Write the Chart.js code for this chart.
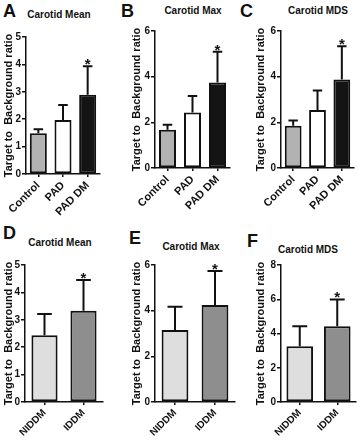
<!DOCTYPE html>
<html>
<head>
<meta charset="utf-8">
<script src="https://cdn.jsdelivr.net/npm/chart.js@4.4.1/dist/chart.umd.min.js"></script>
<style>
  body { margin: 0; background: #fff; width: 358px; height: 440px; position: relative; overflow: hidden;
         font-family: "Liberation Sans", Arial, sans-serif; color: #111; }
  canvas { position: absolute; }
  .letter { position: absolute; font-weight: bold; font-size: 18px; line-height: 18px; }
  .title { position: absolute; font-weight: bold; font-size: 10px; line-height: 10px; white-space: nowrap; transform: translateX(-50%); }
</style>
</head>
<body>

<div class="letter" style="left:3px;top:2px">A</div>
<div class="letter" style="left:121px;top:2px">B</div>
<div class="letter" style="left:240px;top:2px">C</div>
<div class="letter" style="left:3px;top:224px">D</div>
<div class="letter" style="left:129px;top:229px">E</div>
<div class="letter" style="left:247px;top:232px">F</div>

<div class="title" style="left:59px;top:10px">Carotid Mean</div>
<div class="title" style="left:193px;top:6px">Carotid Max</div>
<div class="title" style="left:318px;top:6px">Carotid MDS</div>
<div class="title" style="left:60px;top:238px">Carotid Mean</div>
<div class="title" style="left:191px;top:242px">Carotid Max</div>
<div class="title" style="left:308px;top:245px">Carotid MDS</div>

<canvas id="chartA" width="118" height="220" style="left:0;top:0"></canvas>
<canvas id="chartB" width="120" height="220" style="left:118px;top:0"></canvas>
<canvas id="chartC" width="120" height="220" style="left:238px;top:0"></canvas>
<canvas id="chartD" width="118" height="220" style="left:0;top:220px"></canvas>
<canvas id="chartE" width="120" height="220" style="left:118px;top:220px"></canvas>
<canvas id="chartF" width="120" height="220" style="left:238px;top:220px"></canvas>

<script>
// groups
const catsPAD = ['Control', 'PAD', 'PAD DM'];
const catsDM = ['NIDDM', 'IDDM'];

// means and upper error
const meanA = [1.49, 1.97, 2.89];
const errA = [0.14, 0.55, 1.04];
const meanB = [1.67, 2.43, 3.74];
const errB = [0.22, 0.72, 1.35];
const meanC = [1.85, 2.54, 3.88];
const errC = [0.23, 0.85, 1.45];
const meanD = [2.44, 3.33];
const errD = [0.77, 1.12];
const meanE = [3.15, 4.25];
const errE = [1.02, 1.49];
const meanF = [3.26, 4.43];
const errF = [1.17, 1.56];

// significance marks
const sigPAD = ['', '', '*'];
const sigDM = ['', '*'];

// y axis ranges [max, step]
const yA = [5, 1];
const yB = [6, 2];
const yC = [6, 2];
const yD = [5, 1];
const yE = [6, 2];
const yF = [8, 2];

const colorsPAD = ['#b2b2b2', '#ffffff', '#141414'];
const colorsDM = ['#dedede', '#8e8e8e'];

const yTitle = 'Target to  Background ratio';
const FONT = '"Liberation Sans", Arial, sans-serif';
const INK = '#111';

// draws the upward error bar and star over each bar
const errorBars = {
    id: 'errorBars',
    afterDatasetsDraw(chart, args, opts) {
        const ctx = chart.ctx;
        const y = chart.scales.y;
        const ds = chart.data.datasets[0];
        ctx.save();
        ctx.strokeStyle = INK;
        ctx.fillStyle = INK;
        ctx.lineWidth = 2;
        ctx.font = 'bold 15px ' + FONT;
        ctx.textAlign = 'center';
        ctx.textBaseline = 'alphabetic';
        chart.getDatasetMeta(0).data.forEach((bar, i) => {
            const top = y.getPixelForValue(ds.data[i]);
            const end = y.getPixelForValue(ds.data[i] + opts.errs[i]);
            const cap = bar.width * 0.28;
            ctx.beginPath();
            ctx.moveTo(bar.x, top);
            ctx.lineTo(bar.x, end);
            ctx.moveTo(bar.x - cap, end);
            ctx.lineTo(bar.x + cap, end);
            ctx.stroke();
            if (opts.sig[i]) ctx.fillText(opts.sig[i], bar.x, end + 3);
        });
        ctx.restore();
    }
};

function makePanel(id, labels, means, errs, colors, sig, yRange, box) {
    const ctx = document.getElementById(id).getContext('2d');
    new Chart(ctx, {
        type: 'bar',
        data: {
            labels: labels,
            datasets: [{
                data: means,
                backgroundColor: colors,
                borderColor: INK,
                borderWidth: 2,
                borderSkipped: false,
                categoryPercentage: 1,
                barPercentage: box.barPct
            }]
        },
        options: {
            responsive: false,
            animation: false,
            devicePixelRatio: 1,
            layout: { padding: { left: 0, top: box.top, right: box.right, bottom: 0 } },
            plugins: {
                legend: { display: false },
                tooltip: { enabled: false },
                errorBars: { errs: errs, sig: sig }
            },
            scales: {
                y: {
                    min: 0,
                    max: yRange[0],
                    afterFit: s => { s.width = box.axisX; },
                    ticks: { stepSize: yRange[1], color: INK, padding: 1, font: { family: FONT, size: 10, weight: 'bold' } },
                    grid: { drawOnChartArea: false, tickLength: 4, color: INK, lineWidth: 1.5 },
                    border: { color: INK, width: 1.5 },
                    title: { display: true, text: yTitle, color: INK, padding: { top: box.titlePad, bottom: 0 },
                             font: { family: FONT, size: 11, weight: 'bold' } }
                },
                x: {
                    afterFit: s => { s.height = box.xh; },
                    ticks: { autoSkip: false, minRotation: 45, maxRotation: 45, color: INK, padding: 2,
                             font: { family: FONT, size: box.xFont, weight: 'bold' } },
                    grid: { offset: false, drawOnChartArea: false, tickLength: 3, color: INK, lineWidth: 1.5 },
                    border: { color: INK, width: 1.5 }
                }
            }
        },
        plugins: [errorBars]
    });
}

makePanel('chartA', catsPAD, meanA, errA, colorsPAD, sigPAD, yA, { axisX: 26, top: 37, right: 18, xh: 46, barPct: 0.69, titlePad: 2, xFont: 11 });
makePanel('chartB', catsPAD, meanB, errB, colorsPAD, sigPAD, yB, { axisX: 37, top: 31, right: 8, xh: 52, barPct: 0.68, titlePad: 12, xFont: 11 });
makePanel('chartC', catsPAD, meanC, errC, colorsPAD, sigPAD, yC, { axisX: 43, top: 31, right: 4, xh: 52, barPct: 0.69, titlePad: 16, xFont: 11 });
makePanel('chartD', catsDM, meanD, errD, colorsDM, sigDM, yD, { axisX: 25, top: 45, right: 15, xh: 38, barPct: 0.67, titlePad: 2, xFont: 10 });
makePanel('chartE', catsDM, meanE, errE, colorsDM, sigDM, yE, { axisX: 37, top: 45, right: 3, xh: 38, barPct: 0.67, titlePad: 12, xFont: 10 });
makePanel('chartF', catsDM, meanF, errF, colorsDM, sigDM, yF, { axisX: 43, top: 45, right: 2, xh: 38, barPct: 0.71, titlePad: 16, xFont: 10 });
</script>
</body>
</html>
